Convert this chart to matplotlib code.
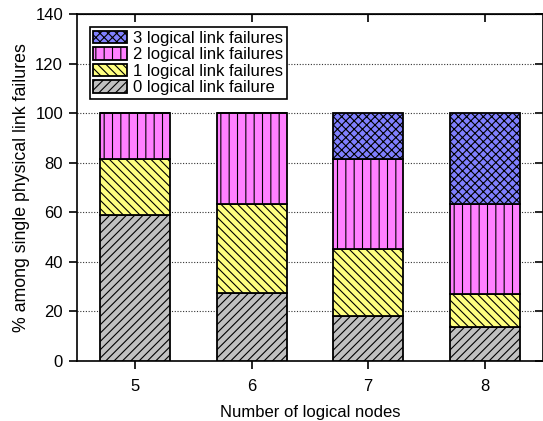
import numpy as np
import matplotlib
matplotlib.use('Agg')
from matplotlib import pyplot as plt

plt.rcParams['font.family'] = ['Liberation Sans', 'DejaVu Sans']
plt.rcParams['hatch.linewidth'] = 0.8

# data
nodes = [5, 6, 7, 8]
fail0 = [59.0, 27.3, 18.2, 13.6]
fail1 = [22.6, 36.2, 27.0, 13.6]
fail2 = [18.4, 36.5, 36.4, 36.3]
fail3 = [0.0, 0.0, 18.4, 36.5]
labels = ['0 logical link failure', '1 logical link failures',
          '2 logical link failures', '3 logical link failures']

colors = ['#c0c0c0', '#ffff80', '#ff80ff', '#8080ff']
hatches = ['////', '\\\\\\\\', '||', 'xxxx']

fig = plt.figure(figsize=(5.43, 4.21), dpi=100)
ax = fig.add_axes([77/543, 1-361/421, 1-77/543, 347/421])

x = np.array(nodes)
bottom = np.zeros(len(nodes))
handles = []
for vals, c, h, lab in zip([fail0, fail1, fail2, fail3], colors, hatches, labels):
    vals = np.array(vals)
    b = ax.bar(x, vals, width=0.6, bottom=bottom, color=c, hatch=h,
               edgecolor='black', linewidth=1.3, label=lab, zorder=3)
    handles.append(b)
    bottom = bottom + vals

ax.set_xlim(4.5, 8.5)
ax.set_ylim(0, 140)
ax.set_xticks(nodes)
ax.set_yticks(np.arange(0, 141, 20))
ax.yaxis.grid(True, linestyle=(0, (1, 1.5)), color='#333333', linewidth=0.8, zorder=0)
ax.tick_params(axis='both', labelsize=12, length=6, width=1.2)
ax.tick_params(axis='x', pad=7)
ax.tick_params(axis='y', pad=4)
for s in ax.spines.values():
    s.set_linewidth(1.2)

# mirrored ticks on top and right, pointing inwards
secx = ax.secondary_xaxis('top')
secx.set_xticks(nodes)
secx.tick_params(direction='in', length=6, width=1.2, labeltop=False)
secy = ax.secondary_yaxis('right')
secy.set_yticks(np.arange(0, 141, 20))
secy.tick_params(direction='in', length=6, width=1.2, labelright=False)

ax.set_xlabel('Number of logical nodes', fontsize=12, labelpad=8)
ax.set_ylabel('% among single physical link failures', fontsize=12.8, labelpad=4)

leg = ax.legend(handles[::-1], labels[::-1], loc='upper left',
                bbox_to_anchor=(0.028, 0.962), fontsize=12, frameon=True,
                fancybox=False, edgecolor='black', framealpha=1,
                borderpad=0.2, labelspacing=0.08, handlelength=2.0,
                handleheight=0.8, handletextpad=0.4, borderaxespad=0)
leg.get_frame().set_linewidth(1.2)

fig.savefig('out.png', dpi=100)
